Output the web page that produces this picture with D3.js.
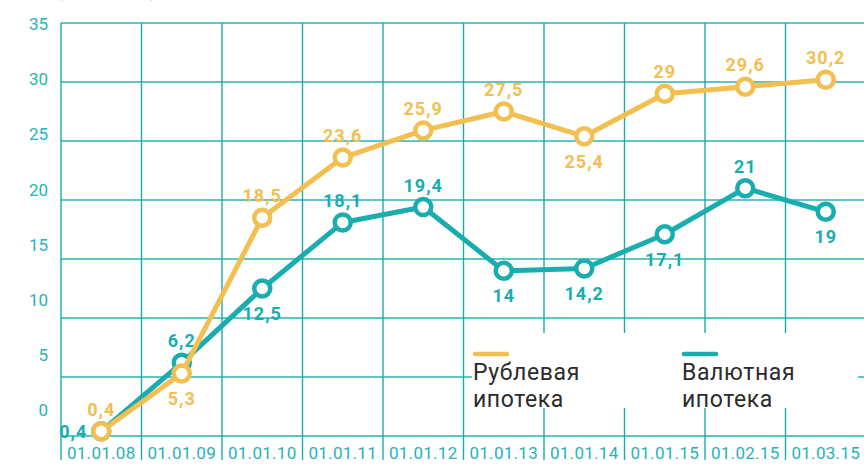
<!DOCTYPE html>
<html>

<head>
  <meta charset="utf-8">
  <script src="https://d3js.org/d3.v7.min.js"></script>
  <style>
    body { margin: 0; background: #fff; }
    svg { display: block; }
  </style>
</head>

<body>
  <div id="chart"></div>
  <script type="text/javascript">
    // chart data
    var dates = ["01.01.08", "01.01.09", "01.01.10", "01.01.11", "01.01.12",
      "01.01.13", "01.01.14", "01.01.15", "01.02.15", "01.03.15"];
    var rubleValues = [0.4, 5.3, 18.5, 23.6, 25.9, 27.5, 25.4, 29, 29.6, 30.2];
    var currencyValues = [0.4, 6.2, 12.5, 18.1, 19.4, 14, 14.2, 17.1, 21, 19];
    var yTicks = [0, 5, 10, 15, 20, 25, 30, 35];

    // where each value label sits relative to its point
    var rubleLabelPos = ["above", "below", "above", "above", "above", "above", "below", "above", "above", "above"];
    var currencyLabelPos = ["left", "above", "below", "above", "above", "below", "below", "below", "above", "below"];

    var orange = "#f2bf50",
      teal = "#19adb0",
      gridH = "#5cc6c8",
      gridV = "#1aabad";

    var width = 864,
      height = 473;

    var svg = d3.select("#chart")
      .append("svg")
      .attr("width", width)
      .attr("height", height);

    var x = d3.scaleBand()
      .domain(dates)
      .range([61, 866]);

    var y = d3.scaleLinear()
      .domain([0, 35])
      .range([436, 23]);

    // the tick labels in the original drift up from the grid lines
    var yLabel = d3.scaleLinear()
      .domain([0, 35])
      .range([410, 24]);

    // heading cut off by the top edge, only its lowest bits show
    svg.append("text")
      .attr("x", 56)
      .attr("y", -4)
      .attr("font-family", "Roboto")
      .attr("font-weight", "bold")
      .attr("font-size", 20)
      .attr("fill", "#333")
      .text("(трлн руб.)");

    // horizontal grid
    svg.selectAll(".hgrid")
      .data(yTicks)
      .enter().append("line")
      .attr("class", "hgrid")
      .attr("x1", 61)
      .attr("x2", width)
      .attr("y1", function(d) { return y(d); })
      .attr("y2", function(d) { return y(d); })
      .attr("stroke", gridH)
      .attr("stroke-width", 2);

    // vertical grid, running down past the axis between the date labels
    var vlines = dates.map(function(d) { return x(d); }).concat([x.range()[1]]);
    svg.selectAll(".vgrid")
      .data(vlines)
      .enter().append("line")
      .attr("class", "vgrid")
      .attr("x1", function(d) { return d; })
      .attr("x2", function(d) { return d; })
      .attr("y1", y(35))
      .attr("y2", 460)
      .attr("stroke", gridV)
      .attr("stroke-width", 1.4);

    // y tick labels
    svg.selectAll(".ylab")
      .data(yTicks)
      .enter().append("text")
      .attr("class", "ylab")
      .attr("x", 48)
      .attr("y", function(d) { return yLabel(d); })
      .attr("dy", "0.36em")
      .attr("text-anchor", "end")
      .attr("font-family", "Roboto")
      .attr("font-size", 17)
      .attr("fill", "#26b3b6")
      .text(function(d) { return d; });

    // x tick labels
    svg.selectAll(".xlab")
      .data(dates)
      .enter().append("text")
      .attr("class", "xlab")
      .attr("x", function(d) { return x(d) + x.bandwidth() / 2; })
      .attr("y", 459)
      .attr("text-anchor", "middle")
      .attr("font-family", "Roboto")
      .attr("font-size", 17)
      .attr("letter-spacing", 0.3)
      .attr("fill", "#26b3b6")
      .text(function(d) { return d; });

    // legend box covers the grid
    var legend = svg.append("g");
    legend.append("rect")
      .attr("x", 472)
      .attr("y", 333)
      .attr("width", 386)
      .attr("height", 75)
      .attr("fill", "#fff");

    var legendItems = [
      { color: orange, lines: ["Рублевая", "ипотека"], x: 473 },
      { color: teal, lines: ["Валютная", "ипотека"], x: 682 }
    ];
    legendItems.forEach(function(item) {
      legend.append("line")
        .attr("x1", item.x + 2)
        .attr("x2", item.x + 34)
        .attr("y1", 354)
        .attr("y2", 354)
        .attr("stroke", item.color)
        .attr("stroke-width", 4.5)
        .attr("stroke-linecap", "round");
      item.lines.forEach(function(t, i) {
        legend.append("text")
          .attr("x", item.x)
          .attr("y", 380 + i * 27)
          .attr("font-family", "Roboto")
          .attr("font-size", 23)
          .attr("letter-spacing", 0.6)
          .attr("fill", "#2b2b2b")
          .text(t);
      });
    });

    var line = d3.line()
      .x(function(d, i) { return x(dates[i]) + x.bandwidth() / 2; })
      .y(function(d) { return y(d); });

    function drawSeries(values, color, labelPos) {
      var g = svg.append("g");

      g.append("path")
        .datum(values)
        .attr("d", line)
        .attr("fill", "none")
        .attr("stroke", color)
        .attr("stroke-width", 5)
        .attr("stroke-linejoin", "round");

      g.selectAll("circle")
        .data(values)
        .enter().append("circle")
        .attr("cx", function(d, i) { return x(dates[i]) + x.bandwidth() / 2; })
        .attr("cy", function(d) { return y(d); })
        .attr("r", 8)
        .attr("fill", "#fff")
        .attr("stroke", color)
        .attr("stroke-width", 4.5);

      g.selectAll(".vlab")
        .data(values)
        .enter().append("text")
        .attr("class", "vlab")
        .attr("x", function(d, i) {
          var cx = x(dates[i]) + x.bandwidth() / 2;
          return labelPos[i] == "left" ? cx - 14 : cx;
        })
        .attr("y", function(d, i) {
          var cy = y(d);
          if (labelPos[i] == "above") return cy - 22;
          if (labelPos[i] == "below") return cy + 25;
          return cy;
        })
        .attr("dy", "0.36em")
        .attr("text-anchor", function(d, i) { return labelPos[i] == "left" ? "end" : "middle"; })
        .attr("font-family", "Roboto")
        .attr("font-weight", "bold")
        .attr("font-size", 18)
        .attr("letter-spacing", 1)
        .attr("fill", color)
        .text(function(d) { return String(d).replace(".", ","); });
    }

    // currency first so the ruble line sits on top
    drawSeries(currencyValues, teal, currencyLabelPos);
    drawSeries(rubleValues, orange, rubleLabelPos);
  </script>
</body>

</html>
